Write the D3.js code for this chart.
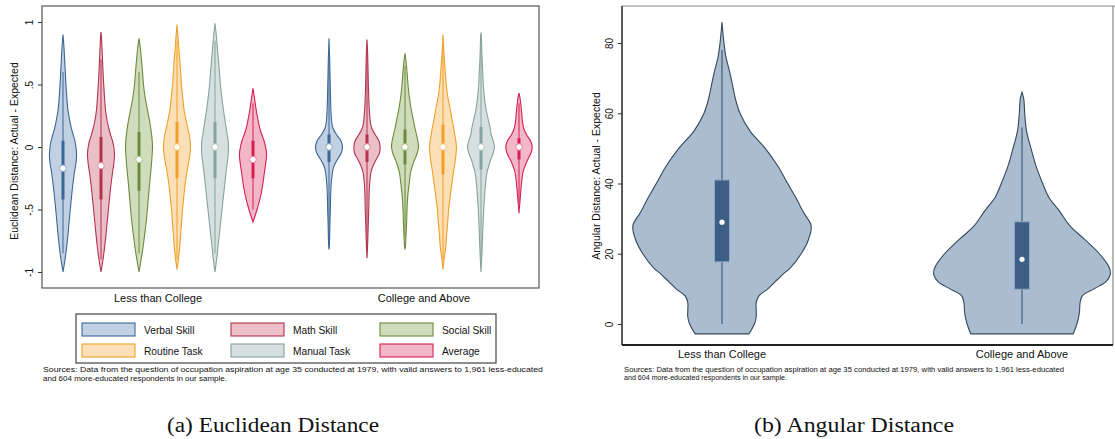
<!DOCTYPE html>
<meta charset="utf-8" />
<script src="https://d3js.org/d3.v7.min.js"></script>
<style>
  body { margin: 0; background: #fff; }
  text { font-family: "Liberation Sans", Arial, sans-serif; fill: #111; }
</style>
<svg width="1115" height="439" id="fig"></svg>
<script>
// ---------- data ----------
var groups = ["Less than College", "College and Above"];
var skills = ["Verbal Skill", "Math Skill", "Social Skill", "Routine Task", "Manual Task", "Average"];

// grid of distance values the densities are given on
var gridE = [-1, -.9, -.8, -.7, -.6, -.5, -.4, -.3, -.2, -.15, -.1, -.05, 0, .05, .1, .15, .2, .3, .4, .5, .6, .7, .8, .9, 1];

// relative density (1 = widest violin) per skill, less than college
var densLess = [
  [0, .15, .27, .37, .45, .54, .63, .73, .85, .93, .99, 1, .96, .88, .75, .62, .52, .36, .28, .22, .17, .12, .07, 0, 0],
  [0, .15, .27, .37, .46, .55, .64, .74, .86, .93, .98, 1, .95, .85, .7, .58, .47, .33, .26, .2, .15, .11, .07, .02, 0],
  [0, .16, .3, .42, .53, .62, .7, .78, .87, .91, .95, .98, 1, .98, .93, .87, .8, .62, .45, .33, .26, .18, .09, 0, 0],
  [0, .1, .2, .27, .34, .41, .5, .6, .74, .82, .9, .97, 1, .97, .9, .8, .7, .52, .42, .33, .27, .2, .13, .06, 0],
  [0, .12, .22, .32, .42, .52, .62, .72, .82, .88, .94, .98, 1, .98, .9, .83, .76, .62, .5, .4, .33, .25, .17, .09, 0],
  [0, 0, 0, 0, 0, .3, .55, .72, .85, .92, .98, 1, .93, .82, .65, .5, .4, .23, .1, 0, 0, 0, 0, 0, 0]
];
// relative density per skill, college and above
var densCol = [
  [0, 0, .02, .05, .07, .1, .12, .16, .26, .38, .62, .9, 1, .88, .55, .3, .2, .14, .11, .09, .07, .05, .02, 0, 0],
  [0, .01, .04, .07, .1, .13, .15, .19, .3, .45, .68, .92, .97, .88, .6, .35, .25, .17, .13, .1, .08, .06, .03, 0, 0],
  [0, 0, .03, .08, .12, .15, .2, .3, .42, .55, .72, .9, 1, .95, .85, .74, .65, .46, .32, .22, .15, .06, 0, 0, 0],
  [0, .08, .2, .27, .35, .42, .53, .65, .78, .85, .92, .97, 1, .95, .87, .8, .7, .54, .36, .24, .17, .1, .05, 0, 0],
  [0, .05, .09, .12, .16, .2, .26, .33, .45, .58, .72, .9, 1, .9, .75, .68, .58, .38, .25, .17, .13, .08, .05, .02, 0],
  [0, 0, 0, 0, 0, .02, .1, .18, .3, .45, .65, .88, .98, .85, .55, .35, .26, .18, .06, 0, 0, 0, 0, 0, 0]
];
// [lowest, highest] value reached by each violin
var tipsLess = [[-1, .9], [-1, .92], [-1, .87], [-.98, .98], [-1, .99], [-.6, .47]];
var tipsCol = [[-.82, .87], [-.89, .86], [-.82, .75], [-.98, .9], [-1, .91], [-.53, .43]];
// [whisker low, q1, median, q3, whisker high]
var boxLess = [[-.85, -.42, -.17, .05, .6], [-.9, -.42, -.15, .08, .7], [-.85, -.35, -.1, .12, .6],
               [-.9, -.25, 0, .2, .85], [-.85, -.25, 0, .2, .85], [-.5, -.25, -.1, .05, .35]];
var boxCol = [[-.75, -.12, 0, .1, .7], [-.8, -.12, 0, .1, .75], [-.72, -.14, 0, .14, .65],
              [-.9, -.22, 0, .18, .8], [-.9, -.18, 0, .16, .8], [-.45, -.1, 0, .07, .35]];
var ticksE = [-1, -.5, 0, .5, 1];

// angular distance
var gridA = [0, 2, 4, 6, 8, 10, 12, 14, 16, 20, 24, 28, 32, 36, 40, 45, 50, 55, 60, 64, 68, 72, 76, 80, 85, 90];
var densA = [
  [.36, .38, .38, .38, .41, .51, .59, .67, .76, .88, .96, .99, .9, .82, .73, .62, .48, .31, .2, .15, .117, .083, .044, .022, .003, 0],
  [.61, .63, .64, .645, .67, .8, .93, .98, .97, .86, .7, .53, .42, .3, .23, .155, .1, .05, .03, .02, 0, 0, 0, 0, 0, 0]
];
// [lowest, density there, highest]
var tipsA = [[-2.8, .3, 86], [-2.8, .57, 66]];
var boxA = [[0, 17.7, 29, 41, 78], [0, 9.9, 18.4, 29.1, 56]];
var ticksA = [0, 20, 40, 60, 80];

var notes = ["Sources: Data from the question of occupation aspiration at age 35 conducted at 1979, with valid answers to 1,961 less-educated",
             "and 604 more-educated respondents in our sample."];

// ---------- styles ----------
var lineCol = ["#3b6796", "#b3334d", "#6a8a3a", "#f0a028", "#86a29c", "#d81e50"];
var fillCol = ["#8eaacb", "#d98a9a", "#a9c187", "#f6c47c", "#b5c9c4", "#e87e9c"];

var svg = d3.select("#fig");

// ================= panel (a) =================
var L = {x0: 42, x1: 539, y0: 6, y1: 288};
var yE = d3.scaleLinear().domain([-1, 1]).range([272, 22]);
var xE = d3.scaleLinear().domain([0, 12]).range([63, 519]);
var wE = d3.scaleLinear().domain([0, 1]).range([0, 13.5]);

var pa = svg.append("g");

pa.append("rect").attr("x", L.x0).attr("y", L.y0)
  .attr("width", L.x1 - L.x0).attr("height", L.y1 - L.y0)
  .attr("fill", "none").attr("stroke", "#555").attr("stroke-width", 1.2);

var axE = pa.append("g").attr("transform", "translate(" + L.x0 + ",0)")
  .call(d3.axisLeft(yE).tickValues(ticksE).tickSize(4)
    .tickFormat(function (d) { return String(d).replace("0.", "."); }));
axE.select(".domain").remove();
axE.selectAll("line").attr("stroke", "#333");
axE.selectAll("text").attr("x", null).attr("dy", null).attr("y", 0)
  .attr("transform", "translate(-9,0) rotate(-90)").attr("text-anchor", "middle")
  .style("font-size", "10px").style("font-family", "Liberation Sans, Arial, sans-serif");

pa.append("text").attr("transform", "translate(18,151) rotate(-90)")
  .attr("text-anchor", "middle").style("font-size", "10.5px")
  .text("Euclidean Distance: Actual - Expected");

function violinPts(grid, dens, lo, hi, dlo) {
  var pts = [{v: lo, d: dlo || 0}];
  grid.forEach(function (g, i) { if (g > lo && g < hi) pts.push({v: g, d: dens[i]}); });
  pts.push({v: hi, d: 0});
  return pts;
}

[densLess, densCol].forEach(function (dset, g) {
  var tips = g === 0 ? tipsLess : tipsCol;
  var boxes = g === 0 ? boxLess : boxCol;
  dset.forEach(function (dens, s) {
    var cx = xE(g * 7 + s);
    var pts = violinPts(gridE, dens, tips[s][0], tips[s][1]);
    var area = d3.area().curve(d3.curveCatmullRom.alpha(0.5))
      .y(function (d) { return yE(d.v); })
      .x0(function (d) { return cx - wE(d.d); })
      .x1(function (d) { return cx + wE(d.d); });
    pa.append("path").attr("d", area(pts))
      .attr("fill", fillCol[s]).attr("fill-opacity", 0.55)
      .attr("stroke", lineCol[s]).attr("stroke-width", 1.1);
    var b = boxes[s];
    pa.append("line").attr("x1", cx).attr("x2", cx)
      .attr("y1", yE(b[0])).attr("y2", yE(b[4]))
      .attr("stroke", lineCol[s]).attr("stroke-width", 1);
    pa.append("line").attr("x1", cx).attr("x2", cx)
      .attr("y1", yE(b[1])).attr("y2", yE(b[3]))
      .attr("stroke", lineCol[s]).attr("stroke-width", 3);
    pa.append("circle").attr("cx", cx).attr("cy", yE(b[2])).attr("r", 3.3)
      .attr("fill", "#fff").attr("stroke", fillCol[s]).attr("stroke-width", 1);
  });
  pa.append("text").attr("x", xE(g * 7 + 2.5)).attr("y", 302)
    .attr("text-anchor", "middle").style("font-size", "11px").text(groups[g]);
});

// legend
pa.append("rect").attr("x", 76).attr("y", 314).attr("width", 420).attr("height", 49)
  .attr("fill", "#fff").attr("stroke", "#444").attr("stroke-width", 1.2);
var legX = d3.scaleLinear().domain([0, 2]).range([82, 380]);
var legY = d3.scaleLinear().domain([0, 1]).range([323, 344]);
skills.forEach(function (name, i) {
  var c = i % 3, r = Math.floor(i / 3);
  pa.append("rect").attr("x", legX(c)).attr("y", legY(r)).attr("width", 53).attr("height", 13)
    .attr("fill", fillCol[i]).attr("fill-opacity", 0.55)
    .attr("stroke", lineCol[i]).attr("stroke-width", 1.1);
  pa.append("text").attr("x", legX(c) + 62).attr("y", legY(r) + 10.5)
    .style("font-size", "10.2px").text(name);
});

pa.append("text").attr("x", 43).attr("y", 372).style("font-size", "7.5px")
  .attr("textLength", 500).attr("lengthAdjust", "spacingAndGlyphs").text(notes[0]);
pa.append("text").attr("x", 43).attr("y", 381).style("font-size", "7.5px")
  .attr("textLength", 184).attr("lengthAdjust", "spacingAndGlyphs").text(notes[1]);

// ================= panel (b) =================
var R = {x0: 622, x1: 1113, y0: 6, y1: 345};
var yA = d3.scaleLinear().domain([0, 80]).range([324, 43]);
var xA = d3.scaleLinear().domain([0, 1]).range([722, 1022]);
var wA = d3.scaleLinear().domain([0, 1]).range([0, 90]);

var pb = svg.append("g");

pb.append("line").attr("x1", R.x0).attr("x2", 1115).attr("y1", R.y0).attr("y2", R.y0)
  .attr("stroke", "#888").attr("stroke-width", 1.2);
pb.append("line").attr("x1", R.x1).attr("x2", R.x1).attr("y1", R.y0).attr("y2", R.y1)
  .attr("stroke", "#888").attr("stroke-width", 1.2);

densA.forEach(function (dens, g) {
  var cx = xA(g);
  var pts = violinPts(gridA, dens, tipsA[g][0], tipsA[g][2], tipsA[g][1]);
  var area = d3.area().curve(d3.curveCatmullRom.alpha(0.5))
    .y(function (d) { return yA(d.v); })
    .x0(function (d) { return cx - wA(d.d); })
    .x1(function (d) { return cx + wA(d.d); });
  pb.append("path").attr("d", area(pts))
    .attr("fill", "#a9bcd0").attr("stroke", "#34485e").attr("stroke-width", 1.1);
  var b = boxA[g];
  pb.append("line").attr("x1", cx).attr("x2", cx)
    .attr("y1", yA(b[0])).attr("y2", yA(b[4]))
    .attr("stroke", "#2f4a68").attr("stroke-width", 1);
  pb.append("rect").attr("x", cx - 7.5).attr("y", yA(b[3]))
    .attr("width", 15).attr("height", yA(b[1]) - yA(b[3]))
    .attr("fill", "#3e5f85").attr("stroke", "#8fa8c2").attr("stroke-width", 1);
  pb.append("circle").attr("cx", cx).attr("cy", yA(b[2])).attr("r", 2.6)
    .attr("fill", "#fff");
  pb.append("text").attr("x", cx).attr("y", 358)
    .attr("text-anchor", "middle").style("font-size", "11px").text(groups[g]);
});

pb.append("line").attr("x1", R.x0).attr("x2", R.x0).attr("y1", R.y0).attr("y2", R.y1)
  .attr("stroke", "#222").attr("stroke-width", 1.5);
pb.append("line").attr("x1", R.x0).attr("x2", R.x1).attr("y1", R.y1).attr("y2", R.y1)
  .attr("stroke", "#222").attr("stroke-width", 1.8);

var axA = pb.append("g").attr("transform", "translate(" + R.x0 + ",0)")
  .call(d3.axisLeft(yA).tickValues(ticksA).tickSize(4));
axA.select(".domain").remove();
axA.selectAll("line").attr("stroke", "#333");
axA.selectAll("text").attr("x", null).attr("dy", null).attr("y", 0)
  .attr("transform", "translate(-9,0) rotate(-90)").attr("text-anchor", "middle")
  .style("font-size", "10px").style("font-family", "Liberation Sans, Arial, sans-serif");

pb.append("text").attr("transform", "translate(600,176) rotate(-90)")
  .attr("text-anchor", "middle").style("font-size", "10.5px")
  .text("Angular Distance: Actual - Expected");

pb.append("text").attr("x", 624).attr("y", 372).style("font-size", "6.8px")
  .attr("textLength", 440).attr("lengthAdjust", "spacingAndGlyphs").text(notes[0]);
pb.append("text").attr("x", 624).attr("y", 380).style("font-size", "6.8px")
  .attr("textLength", 163).attr("lengthAdjust", "spacingAndGlyphs").text(notes[1]);

// ---------- captions ----------
svg.append("text").attr("x", 167).attr("y", 432)
  .style("font-family", "'Liberation Serif', 'DejaVu Serif', serif").style("font-size", "20px")
  .attr("textLength", 212).attr("lengthAdjust", "spacingAndGlyphs")
  .text("(a) Euclidean Distance");
svg.append("text").attr("x", 754).attr("y", 432)
  .style("font-family", "'Liberation Serif', 'DejaVu Serif', serif").style("font-size", "20px")
  .attr("textLength", 200).attr("lengthAdjust", "spacingAndGlyphs")
  .text("(b) Angular Distance");
</script>
